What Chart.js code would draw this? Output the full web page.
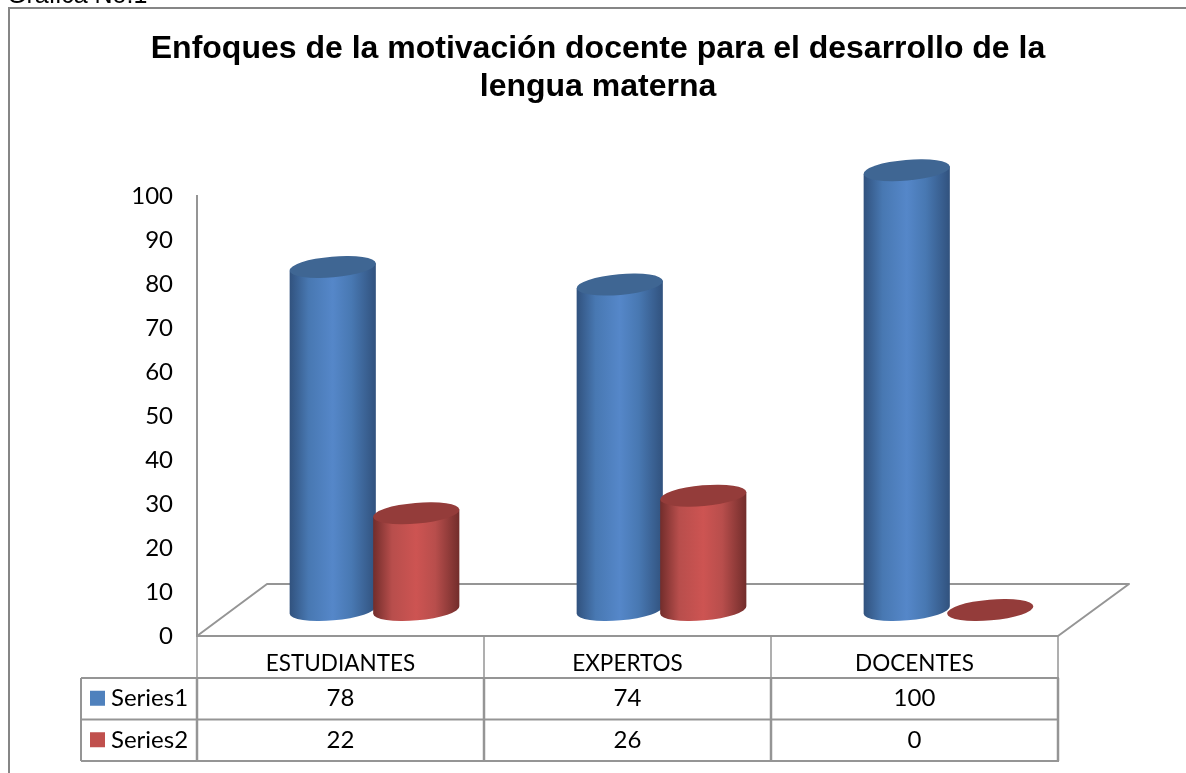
<!DOCTYPE html>
<html>
<head>
<meta charset="utf-8">
<title>Enfoques de la motivación docente</title>
<script src="https://cdn.jsdelivr.net/npm/chart.js@4"></script>
<style>
  html, body { margin: 0; padding: 0; background: #fff; overflow: hidden; }
  #wrap { position: relative; width: 1186px; height: 773px; overflow: hidden; }
  #caption { position: absolute; left: 7px; top: -20px; font: 25px "Liberation Sans", sans-serif; color: #000; }
  #frame { position: absolute; left: 8px; top: 7px; width: 1200px; height: 800px; border: 2px solid #868686; }
  canvas { position: absolute; left: 0; top: 0; }
</style>
</head>
<body>
<div id="wrap">
  <div id="frame"></div>
  <canvas id="myChart" width="1186" height="773"></canvas>
  <div id="caption">Gráfica No.1</div>
</div>
<script>
const categories = ['ESTUDIANTES', 'EXPERTOS', 'DOCENTES'];
const seriesNames = ['Series1', 'Series2'];
const series1 = [78, 74, 100];
const series2 = [22, 26, 0];
const titleLines = ['Enfoques de la motivación docente para el desarrollo de la', 'lengua materna'];

const blue = { edge: '#31527e', soft: '#4878b2', mid: '#5587c9', top: '#3f6693', key: '#4f81bd' };
const red = { edge: '#722d2b', soft: '#b84e4c', mid: '#cd5452', top: '#943c3a', key: '#c0504d' };
const lineColor = '#959595';
const labelFont = '24px Lato, sans-serif';

// the bars sit back on the floor, not on the front edge
const depthX = 34, depthY = -26;
const floorDX = 70, floorDY = -52;

function cylinder(ctx, el, c) {
  const rx = el.width / 2 + 1.5, ry = 10.4;
  const rot = -5 * Math.PI / 180;
  const x = el.x + depthX, top = el.y + depthY, base = el.base + depthY;
  const ox = rx * Math.cos(rot), oy = rx * Math.sin(rot);

  if (base - top > 1) {
    const g = ctx.createLinearGradient(x - ox, 0, x + ox, 0);
    g.addColorStop(0, c.edge);
    g.addColorStop(0.22, c.soft);
    g.addColorStop(0.5, c.mid);
    g.addColorStop(0.72, c.soft);
    g.addColorStop(1, c.edge);
    ctx.beginPath();
    ctx.moveTo(x - ox, top - oy);
    ctx.lineTo(x - ox, base - oy);
    ctx.ellipse(x, base, rx, ry, rot, Math.PI, 0, true);
    ctx.lineTo(x + ox, top + oy);
    ctx.closePath();
    ctx.fillStyle = g;
    ctx.fill();
  }
  ctx.beginPath();
  ctx.ellipse(x, top, rx, ry, rot, 0, Math.PI * 2);
  ctx.fillStyle = c.top;
  ctx.fill();
}

function seg(ctx, x1, y1, x2, y2, w) {
  ctx.beginPath();
  ctx.lineWidth = w;
  ctx.moveTo(x1, y1);
  ctx.lineTo(x2, y2);
  ctx.stroke();
}

const scene = {
  id: 'scene',
  beforeDatasetsDraw(chart) {
    const { ctx, chartArea: a } = chart;
    ctx.save();
    // floor
    ctx.strokeStyle = lineColor;
    ctx.lineJoin = 'round';
    ctx.lineWidth = 2;
    ctx.beginPath();
    ctx.moveTo(a.left, a.bottom);
    ctx.lineTo(a.left + floorDX, a.bottom + floorDY);
    ctx.lineTo(a.right + floorDX + 1, a.bottom + floorDY);
    ctx.lineTo(a.right, a.bottom);
    ctx.closePath();
    ctx.stroke();
    // cylinders, series 2 on top of series 1
    [blue, red].forEach((c, i) => {
      chart.getDatasetMeta(i).data.forEach(el => cylinder(ctx, el, c));
    });
    ctx.restore();
  },
  afterDraw(chart) {
    // data table under the axis
    const { ctx, chartArea: a, scales } = chart;
    const rowH = 41.5, headH = 42, keyLeft = 81;
    const rows = [series1, series2];
    const keys = [blue.key, red.key];
    const y0 = a.bottom + headH;
    const step = (a.right - a.left) / categories.length;
    ctx.save();
    ctx.strokeStyle = lineColor;
    for (let i = 0; i <= categories.length; i++) {
      const x = a.left + i * step;
      seg(ctx, x, a.bottom, x, y0, 1.5);
      seg(ctx, x, y0, x, y0 + rowH * 2, 2.5);
    }
    for (let r = 0; r <= 2; r++) {
      seg(ctx, keyLeft, y0 + r * rowH, a.right + 1, y0 + r * rowH, 2);
    }
    seg(ctx, keyLeft, y0, keyLeft, y0 + rowH * 2, 2);

    ctx.font = labelFont;
    ctx.textBaseline = 'middle';
    rows.forEach((vals, r) => {
      const cy = y0 + r * rowH + rowH / 2;
      ctx.fillStyle = keys[r];
      ctx.fillRect(keyLeft + 9, cy - 8, 15, 15);
      ctx.fillStyle = '#000';
      ctx.textAlign = 'left';
      ctx.fillText(seriesNames[r], keyLeft + 30, cy);
      ctx.textAlign = 'center';
      vals.forEach((v, i) => ctx.fillText(String(v), scales.x.getPixelForValue(i), cy));
    });
    ctx.restore();
  }
};

new Chart(document.getElementById('myChart').getContext('2d'), {
  type: 'bar',
  plugins: [scene],
  data: {
    labels: categories,
    datasets: [
      { label: seriesNames[0], data: series1, backgroundColor: 'rgba(0,0,0,0)' },
      { label: seriesNames[1], data: series2, backgroundColor: 'rgba(0,0,0,0)' }
    ]
  },
  options: {
    responsive: false,
    animation: false,
    categoryPercentage: 0.582,
    barPercentage: 1,
    layout: { padding: { left: 10, top: 25, bottom: 0, right: 0 } },
    plugins: {
      legend: { display: false },
      tooltip: { enabled: false },
      title: {
        display: true,
        text: titleLines,
        color: '#000',
        font: { family: '"Liberation Sans", sans-serif', size: 32, weight: 'bold', lineHeight: 1.16 },
        padding: { top: 6, bottom: 91 }
      }
    },
    scales: {
      x: {
        grid: { display: false },
        border: { display: false },
        ticks: { color: '#000', font: { family: 'Lato, sans-serif', size: 22.5 }, padding: 6, maxRotation: 0 },
        afterFit(s) { s.height = 137; }
      },
      y: {
        min: 0,
        max: 100,
        grid: { display: false, drawTicks: false },
        border: { display: true, color: lineColor, width: 2 },
        ticks: { stepSize: 10, color: '#000', padding: 24, font: { family: 'Lato, sans-serif', size: 24 } },
        afterFit(s) { s.width = 187; }
      },
      // only there to keep the plot clear of the right side
      side: {
        position: 'right',
        min: 0,
        max: 100,
        grid: { display: false },
        border: { display: false },
        ticks: { display: false },
        afterFit(s) { s.width = 128; }
      }
    }
  }
});
</script>
</body>
</html>
